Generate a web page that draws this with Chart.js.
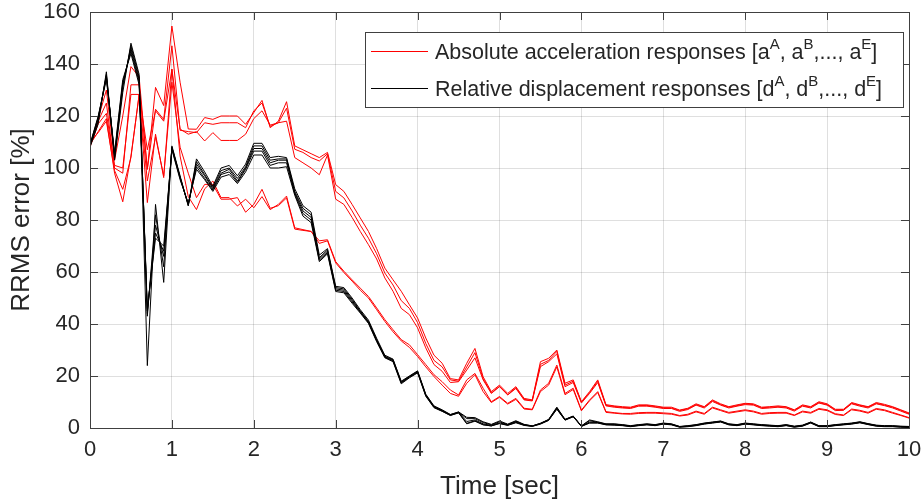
<!DOCTYPE html>
<html>
<head>
<meta charset="utf-8">
<script src="https://cdn.jsdelivr.net/npm/chart.js@4.4.1/dist/chart.umd.min.js"></script>
<style>
html, body { margin: 0; padding: 0; background: #fff; }
#wrap { width: 924px; height: 504px; }
</style>
</head>
<body>
<div id="wrap"><canvas id="rrmsChart" width="924" height="504"></canvas></div>
<script>
// time grid, 0.1 s steps
const time = Array.from({ length: 101 }, (_, i) => i / 10);

const yTicks = [0, 20, 40, 60, 80, 100, 120, 140, 160];
const xTicks = [0, 1, 2, 3, 4, 5, 6, 7, 8, 9, 10];

// RRMS error [%] - absolute acceleration responses a^A ... a^E
const accA = [108.5, 119, 130, 103, 120, 139, 135, 99.5, 131, 124, 154.6, 133, 115,
  114.9, 119.4, 118.7, 120, 120, 120, 116.8, 121.3, 126, 115.5, 118, 125.5, 108.5,
  107, 105.5, 104, 106, 93.6, 91, 86, 80.8, 75.6, 69, 61.5, 57, 52.6, 47.4, 42.3, 34.6, 28, 24.9, 19, 18.5,
  24.9, 30.6, 19.7, 14, 16.5, 13.3, 15.9, 11.4, 10.8, 25.5, 26.8, 30, 17.2, 18.5, 10.1, 14, 18.5,
  9.0, 8.5, 8.2, 8.0, 8.9, 8.9, 8.5, 8.0, 8.0, 6.9, 7.6, 9.3, 8.2, 10.8, 9.3, 8.2, 8.9, 9.5,
  9.3, 8.0, 8.2, 8.5, 8.2, 7.0, 8.9, 8.2, 10.1, 9.3, 7.2, 7.2, 9.8, 8.9, 8.2, 9.8, 9.1, 8.2, 7.0, 5.8];
const accB = [108.5, 118, 125, 100, 98, 132, 132, 99.5, 122.6, 118.7, 147, 114.5, 114,
  113.6, 117.4, 116.8, 117.4, 117.4, 117.4, 115.5, 122, 125, 116, 117.4, 123, 107.2,
  106, 104, 102.7, 105.5, 91, 88.5, 83.5, 78, 73, 67, 59.6, 55, 49, 46, 40.5, 32.5, 26, 23.5, 18.5, 18,
  23.5, 29, 19, 13.5, 16, 12.8, 15.5, 11, 10.6, 24.5, 26, 29.5, 16.5, 18, 10, 13.6, 18,
  8.7, 8.3, 7.9, 7.8, 8.6, 8.7, 8.2, 7.8, 7.7, 6.7, 7.4, 9.0, 8.0, 10.5, 9.0, 8.0, 8.6, 9.3,
  9.0, 7.8, 8.0, 8.2, 8.0, 6.8, 8.6, 8.0, 9.8, 9.0, 7.0, 7.0, 9.5, 8.7, 8.0, 9.5, 8.8, 8.0, 6.8, 5.5];
const accC = [108, 117, 121, 101, 100, 128.3, 128.3, 107, 122, 118, 138, 115, 113,
  114, 110.4, 113.6, 110.6, 110.6, 110.6, 113, 119, 122, 116.5, 117.4, 118, 104,
  102, 100, 97.4, 105, 88, 86, 81, 75.6, 70.5, 65, 57.7, 52.6, 46, 43.6, 38.5, 30.8, 24.4, 21.8, 17.5, 17.8,
  22.3, 27, 18.5, 13.3, 15.9, 12.7, 15.2, 10.8, 10.4, 23.6, 25.5, 28.5, 15.9, 17.5, 9.6, 13.3, 17.5,
  8.5, 8.0, 7.7, 7.5, 8.4, 8.4, 8.0, 7.5, 7.5, 6.4, 7.1, 8.8, 7.7, 10.2, 8.8, 7.7, 8.4, 9.0,
  8.8, 7.5, 7.7, 8.0, 7.7, 6.5, 8.4, 7.7, 9.6, 8.8, 6.7, 6.8, 9.3, 8.4, 7.7, 9.3, 8.6, 7.7, 6.5, 5.3];
const accD = [109, 114, 119, 98, 87, 104.6, 128, 86.7, 113, 96.3, 138, 104.6, 89,
  84, 92, 95, 88.6, 88.6, 85.4, 88, 84.7, 89, 84, 86, 89.2, 77,
  76.3, 75.6, 72, 72.4, 64, 60.3, 57, 53.8, 50.6, 46.2, 41.7, 37.8, 34, 32, 28.2, 24.4, 20.5, 17.8, 14.6, 12.7,
  18.5, 21, 15.3, 10.1, 12.1, 9.5, 11.4, 7.6, 7.2, 14.6, 17.2, 24.2, 13.3, 15.3, 6.9, 10.8, 14,
  6.3, 5.9, 5.6, 5.6, 5.9, 6.0, 6.0, 5.8, 5.6, 4.8, 5.3, 6.5, 5.6, 8.0, 7.0, 6.0, 6.5, 7.0,
  6.5, 5.6, 5.9, 6.0, 6.0, 5.0, 6.5, 6.0, 7.5, 7.0, 5.5, 5.0, 7.3, 6.8, 6.0, 7.5, 7.0, 6.0, 5.0, 4.0];
const accE = [110, 113.6, 118, 99, 91.8, 104, 128.3, 95, 112, 97, 133, 108, 98,
  88.6, 93.7, 93.7, 88, 88, 88.6, 83, 86, 91.8, 84.5, 85.5, 88.5, 76.5,
  76, 75.6, 71, 72, 63.5, 59.8, 56.5, 53, 50, 45.5, 41, 37, 33.5, 31, 27.5, 23.5, 19.8, 16.5, 13.3, 12.2,
  17.2, 20.5, 14, 9.8, 11.8, 9.2, 11, 7.3, 7, 14, 16.5, 23.5, 12.8, 14.8, 6.6, 10.5, 13.6,
  6.0, 5.7, 5.4, 5.3, 5.6, 5.7, 5.7, 5.5, 5.3, 4.6, 5.0, 6.2, 5.3, 7.7, 6.7, 5.7, 6.2, 6.7,
  6.2, 5.3, 5.6, 5.7, 5.7, 4.8, 6.2, 5.7, 7.2, 6.7, 5.2, 4.8, 7.0, 6.5, 5.7, 7.2, 6.7, 5.7, 4.8, 3.8];

// RRMS error [%] - relative displacement responses d^A ... d^E
const dispA = [108, 117, 137, 103, 129, 148, 136, 24, 86, 56, 108.5, 97, 85.5, 103.5, 98.5, 93, 100, 101, 97, 101.5,
  109.5, 109.5, 104, 104.5, 104, 92, 85.5, 83, 66.5, 69,
  54.5, 54, 50, 45.5, 41.5, 34.5, 28, 26.5, 18, 20, 22, 13, 8.5, 7, 5.2, 6.2, 4.1, 4, 2.4, 1.4,
  2.7, 1.5, 2.8, 1.4, 0.8, 1.8, 3.3, 8, 3.3, 4.6, 0.8, 3.1, 2.4,
  1.6, 1.6, 1.3, 0.9, 1.3, 1.6, 1.3, 1.9, 1.6, 0.6, 0.9, 1.3, 1.9, 2.3, 2.7, 1.6, 1.3, 1.9,
  1.6, 1.3, 1.1, 0.9, 1.3, 0.7, 1.1, 2.3, 0.9, 0.9, 1.3, 1.6, 1.9, 2.4, 1.7, 1.1, 0.9, 0.9, 0.7, 0.6];
const dispB = [108.5, 118, 136, 104, 131, 147, 135, 43, 82, 62, 108, 96.5, 85.5, 102.5, 97.5, 92.5, 99, 100, 96, 100.5,
  108.5, 108.5, 103, 103.5, 103.5, 91, 84.5, 82, 65.5, 68.5,
  54, 53.5, 49.5, 45, 41, 34, 27.6, 26.3, 17.7, 19.9, 21.8, 12.8, 8.3, 6.8, 5.1, 6.1, 3.6, 3.6, 2.1, 1.2,
  2.4, 1.3, 2.6, 1.3, 0.8, 1.8, 3.2, 7.8, 3.3, 4.5, 0.8, 2.8, 2.2,
  1.5, 1.5, 1.2, 0.8, 1.2, 1.5, 1.2, 1.8, 1.5, 0.5, 0.8, 1.2, 1.8, 2.2, 2.6, 1.5, 1.2, 1.8,
  1.5, 1.2, 1.0, 0.8, 1.2, 0.6, 1.0, 2.2, 0.8, 0.8, 1.2, 1.5, 1.8, 2.3, 1.6, 1.0, 0.8, 0.8, 0.6, 0.5];
const dispC = [108.5, 119, 135.5, 104.5, 132, 146, 134, 44, 78, 66, 108, 96.5, 86, 101.5, 97, 92, 98, 99.5, 95, 100,
  107.5, 107.5, 102, 103, 103, 90.5, 83.5, 81, 65, 68,
  53.5, 53, 49, 44.8, 40.8, 33.8, 27.4, 26, 17.5, 19.7, 21.6, 12.6, 8.1, 6.6, 5, 6, 2.5, 3.1, 1.6, 1,
  2, 1.2, 2.4, 1.2, 0.7, 1.7, 3.1, 7.6, 3.2, 4.5, 0.7, 2.3, 2.1,
  1.4, 1.3, 1.1, 0.7, 1.1, 1.4, 1.1, 1.7, 1.4, 0.5, 0.7, 1.1, 1.7, 2.1, 2.5, 1.4, 1.1, 1.7,
  1.4, 1.1, 0.9, 0.7, 1.1, 0.5, 0.9, 2.1, 0.7, 0.7, 1.1, 1.4, 1.7, 2.2, 1.5, 0.9, 0.7, 0.7, 0.5, 0.4];
const dispD = [109, 119.5, 135, 105, 133, 145, 133, 45, 75, 68, 107.5, 96, 86, 100.5, 96, 91.5, 97.5, 98.5, 94.5, 99.5,
  106.5, 106.5, 101, 102, 102, 90, 82.5, 80, 64.5, 67.5,
  53, 52.5, 48.5, 44.5, 40.5, 33.5, 27.2, 25.8, 17.3, 19.5, 21.4, 12.4, 8, 6.5, 4.9, 5.9, 1.8, 2.8, 1.3, 0.8,
  1.8, 1.1, 2.2, 1.1, 0.7, 1.6, 3, 7.4, 3.1, 4.4, 0.7, 2, 2,
  1.3, 1.2, 1.0, 0.6, 1.0, 1.3, 1.0, 1.6, 1.3, 0.4, 0.6, 1.0, 1.6, 2.0, 2.4, 1.3, 1.0, 1.6,
  1.3, 1.0, 0.8, 0.6, 1.0, 0.4, 0.8, 2.0, 0.6, 0.6, 1.0, 1.3, 1.6, 2.1, 1.4, 0.8, 0.6, 0.6, 0.4, 0.3];
const dispE = [109, 120, 134, 106, 134, 144, 132, 46, 73, 70, 107, 95.5, 86.5, 99.5, 95.5, 91, 96.5, 97.5, 94, 98.5,
  105, 105, 100, 100, 100.5, 89.5, 81.5, 79, 64, 67,
  52.5, 52, 48, 44.2, 40.2, 33.2, 27, 25.5, 17, 19.3, 21.2, 12.2, 7.8, 6.4, 4.8, 5.8, 1.6, 2.6, 1.2, 0.8,
  1.7, 1, 2, 1, 0.6, 1.5, 2.9, 7.2, 3, 4.3, 0.6, 1.9, 1.9,
  1.2, 1.1, 0.9, 0.5, 0.9, 1.2, 0.9, 1.5, 1.2, 0.3, 0.5, 0.9, 1.5, 1.9, 2.3, 1.2, 0.9, 1.5,
  1.2, 0.9, 0.7, 0.5, 0.9, 0.3, 0.7, 1.9, 0.5, 0.5, 0.9, 1.2, 1.5, 2.0, 1.3, 0.7, 0.5, 0.5, 0.3, 0.2];

const accSeries = [accA, accB, accC, accD, accE];
const dispSeries = [dispA, dispB, dispC, dispD, dispE];

// legend rows: [plain, superscript] pieces
const legendRows = [
  { color: '#ff0000', parts: [['Absolute acceleration responses [a', 'A'], [', a', 'B'], [',..., a', 'E'], [']', '']] },
  { color: '#000000', parts: [['Relative displacement responses [d', 'A'], [', d', 'B'], [',..., d', 'E'], [']', '']] }
];

const FONT = '"Liberation Sans", Arial, Helvetica, sans-serif';
const AXIS = '#404040';
const TEXT = '#262626';

// axes box + inward ticks on all four sides
const boxTicks = {
  id: 'boxTicks',
  afterDatasetsDraw(chart) {
    const { ctx, chartArea: a, scales } = chart;
    const len = 8;
    ctx.save();
    ctx.strokeStyle = AXIS;
    ctx.lineWidth = 1;
    ctx.beginPath();
    xTicks.forEach(v => {
      const x = Math.round(scales.x.getPixelForValue(v)) + 0.5;
      ctx.moveTo(x, a.bottom); ctx.lineTo(x, a.bottom - len);
      ctx.moveTo(x, a.top); ctx.lineTo(x, a.top + len);
    });
    yTicks.forEach(v => {
      const y = Math.round(scales.y.getPixelForValue(v)) + 0.5;
      ctx.moveTo(a.left, y); ctx.lineTo(a.left + len, y);
      ctx.moveTo(a.right, y); ctx.lineTo(a.right - len, y);
    });
    ctx.stroke();
    ctx.strokeRect(Math.round(a.left) + 0.5, Math.round(a.top) + 0.5,
      Math.round(a.right - a.left), Math.round(a.bottom - a.top));
    ctx.restore();
  }
};

// legend with superscripted response labels
const supLegend = {
  id: 'supLegend',
  afterDraw(chart) {
    const ctx = chart.ctx;
    const box = { x: 365.5, y: 32.5, w: 538, h: 75 };
    ctx.save();
    ctx.fillStyle = '#fff';
    ctx.fillRect(box.x, box.y, box.w, box.h);
    ctx.strokeStyle = AXIS;
    ctx.lineWidth = 1;
    ctx.strokeRect(box.x, box.y, box.w, box.h);
    legendRows.forEach((row, i) => {
      const cy = 51 + i * 37;
      ctx.strokeStyle = row.color;
      ctx.beginPath();
      ctx.moveTo(371, cy + 0.5);
      ctx.lineTo(428, cy + 0.5);
      ctx.stroke();
      let x = 435;
      ctx.fillStyle = TEXT;
      ctx.textBaseline = 'alphabetic';
      const base = cy + 8;
      row.parts.forEach(([plain, sup]) => {
        ctx.font = '21.5px ' + FONT;
        ctx.fillText(plain, x, base);
        x += ctx.measureText(plain).width;
        if (sup) {
          ctx.font = '15px ' + FONT;
          ctx.fillText(sup, x, base - 10);
          x += ctx.measureText(sup).width;
        }
      });
    });
    ctx.restore();
  }
};

const datasets = [];
dispSeries.forEach(d => datasets.push({
  data: d, borderColor: '#000000', borderWidth: 1, pointRadius: 0, tension: 0, order: 0
}));
accSeries.forEach(d => datasets.push({
  data: d, borderColor: '#ff0000', borderWidth: 1, pointRadius: 0, tension: 0, order: 1
}));

new Chart(document.getElementById('rrmsChart'), {
  type: 'line',
  data: { labels: time, datasets: datasets },
  options: {
    responsive: false,
    animation: false,
    devicePixelRatio: 1,
    layout: { padding: { top: 12, right: 15, left: 0, bottom: 0 } },
    plugins: { legend: { display: false }, tooltip: { enabled: false } },
    scales: {
      x: {
        type: 'linear', min: 0, max: 10,
        afterBuildTicks: s => { s.ticks = xTicks.map(v => ({ value: v })); },
        afterFit: s => { s.height = 76; s.paddingLeft = 0; s.paddingRight = 0; },
        ticks: { color: TEXT, font: { family: FONT, size: 22 }, padding: 9, maxRotation: 0 },
        grid: { color: 'rgba(38,38,38,0.15)', drawTicks: false, lineWidth: 1 },
        border: { display: false },
        title: { display: true, text: 'Time [sec]', color: TEXT, font: { family: FONT, size: 26 }, padding: { top: 0, bottom: 2 } }
      },
      y: {
        min: 0, max: 160,
        afterBuildTicks: s => { s.ticks = yTicks.map(v => ({ value: v })); },
        afterFit: s => { s.width = 90; s.paddingTop = 0; s.paddingBottom = 0; },
        ticks: { color: TEXT, font: { family: FONT, size: 22 }, padding: 10 },
        grid: { color: 'rgba(38,38,38,0.15)', drawTicks: false, lineWidth: 1 },
        border: { display: false },
        title: { display: true, text: 'RRMS error [%]', color: TEXT, font: { family: FONT, size: 26 }, padding: { top: 6, bottom: 0 } }
      }
    }
  },
  plugins: [boxTicks, supLegend]
});
</script>
</body>
</html>
